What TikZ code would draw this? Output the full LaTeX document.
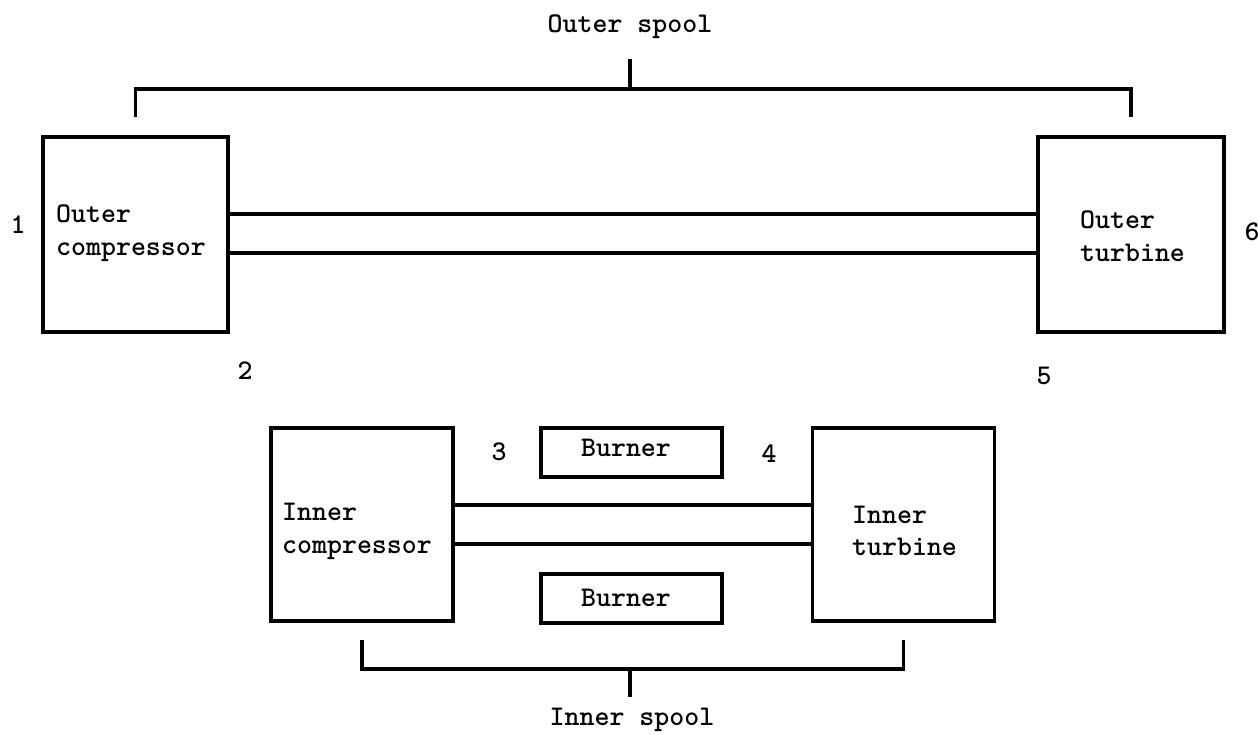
\documentclass[tikz,border=0pt]{standalone}
\begin{document}
\begin{tikzpicture}[x=1pt,y=-1pt,
  box/.style={draw,line width=3.2pt,inner sep=0pt},
  ln/.style={line width=3.2pt},
  lbl/.style={font=\fontsize{28.5}{33}\selectfont\ttfamily\bfseries,inner sep=0pt}]
\useasboundingbox (0,0) rectangle (1258,734);
% boxes
\node[box,minimum width=185pt,minimum height=195pt] (oc) at (135.5,234.5) {};
\node[box,minimum width=186pt,minimum height=195pt] (ot) at (1131,234.5) {};
\node[box,minimum width=182pt,minimum height=193pt] (ic) at (362,524.5) {};
\node[box,minimum width=182pt,minimum height=193pt] (it) at (903.5,524.5) {};
\node[box,minimum width=181pt,minimum height=49pt] (b1) at (631.5,452.5) {};
\node[box,minimum width=181pt,minimum height=49pt] (b2) at (631.5,598.5) {};
% box texts
\node[lbl,anchor=base west] (oct1) at (56,222) {Outer};
\node[lbl,anchor=base west] (oct2) at (56,255) {compressor};
\node[lbl,anchor=base west] (ott1) at (1080,228) {Outer};
\node[lbl,anchor=base west] (ott2) at (1080,261) {turbine};
\node[lbl,anchor=base west] (ict1) at (282,520) {Inner};
\node[lbl,anchor=base west] (ict2) at (282,553) {compressor};
\node[lbl,anchor=base west] (itt1) at (852,523) {Inner};
\node[lbl,anchor=base west] (itt2) at (852,555) {turbine};
\node[lbl,anchor=base] (b1t) at (626,456) {Burner};
\node[lbl,anchor=base] (b2t) at (626,606) {Burner};
% station numbers
\node[lbl,anchor=base] (n1) at (18,233) {1};
\node[lbl,anchor=base] (n2) at (245,379) {2};
\node[lbl,anchor=base] (n3) at (499,460) {3};
\node[lbl,anchor=base] (n4) at (769,462) {4};
\node[lbl,anchor=base] (n5) at (1044,384) {5};
\node[lbl,anchor=base] (n6) at (1252,240) {6};
% spool labels
\node[lbl,anchor=base] (os) at (630,32) {Outer spool};
\node[lbl,anchor=base] (is) at (632,725) {Inner spool};
% shafts
\coordinate (oa1) at (oc.east |- 0,214);
\coordinate (oa2) at (oc.east |- 0,253);
\draw[ln] (oa1) -- (ot.west |- oa1);
\draw[ln] (oa2) -- (ot.west |- oa2);
\coordinate (ia1) at (ic.east |- 0,505);
\coordinate (ia2) at (ic.east |- 0,544);
\draw[ln] (ia1) -- (it.west |- ia1);
\draw[ln] (ia2) -- (it.west |- ia2);
% outer bracket
\coordinate (obl) at (oc.center |- 0,117);
\coordinate (obr) at (ot.center |- 0,117);
\coordinate (obm) at (630,89);
\draw[ln] (obl) -- (obl |- obm) -- (obr |- obm) -- (obr);
\draw[ln] (obm) -- (630,59);
% inner bracket
\coordinate (ibl) at (ic.center |- 0,640);
\coordinate (ibr) at (it.center |- 0,640);
\coordinate (ibm) at (630,669);
\draw[ln] (ibl) -- (ibl |- ibm) -- (ibr |- ibm) -- (ibr);
\draw[ln] (ibm) -- (630,697);
\end{tikzpicture}
\end{document}
